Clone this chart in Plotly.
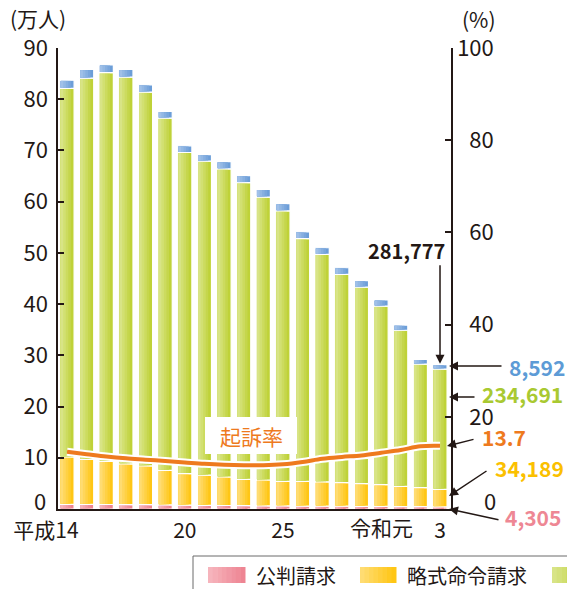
import plotly.graph_objects as go

# ---- data (万人) ----
years = ["平成14", "15", "16", "17", "18", "19", "20", "21", "22", "23",
         "24", "25", "26", "27", "28", "29", "30", "令和元", "2", "3"]
kohan = [0.92, 0.90, 0.88, 0.86, 0.84, 0.80, 0.75, 0.72, 0.68, 0.65,
         0.62, 0.60, 0.58, 0.56, 0.55, 0.53, 0.50, 0.48, 0.45, 0.4305]
ryakushiki = [9.23, 8.80, 8.42, 7.94, 7.56, 6.75, 6.15, 5.88, 5.57, 5.15,
              5.04, 4.80, 4.82, 4.74, 4.59, 4.42, 4.25, 3.95, 3.72, 3.4189]
fukiso = [71.95, 74.40, 75.90, 75.50, 73.00, 68.75, 62.70, 61.30, 60.15, 57.90,
          55.24, 52.80, 47.40, 44.40, 40.66, 38.35, 34.85, 30.47, 24.13, 23.4691]
kasai = [1.6, 1.7, 1.5, 1.5, 1.4, 1.3, 1.3, 1.3, 1.4, 1.4,
         1.5, 1.4, 1.3, 1.3, 1.3, 1.3, 1.2, 1.0, 0.9, 0.8592]
kiso_rate = [12.4, 11.9, 11.4, 11.0, 10.7, 10.4, 10.1, 9.8, 9.6, 9.5,
             9.5, 9.7, 10.2, 10.9, 11.3, 11.6, 12.2, 12.8, 13.6, 13.7]
x_tick_vals = ["平成14", "20", "25", "3"]
x_tick_text = ["平成14\u3000\u3000", "20", "25", "3"]
reiwa_label = "令和元"
y_tick_vals = [0, 10, 20, 30, 40, 50, 60, 70, 80, 90]
y2_tick_vals = [0, 20, 40, 60, 80, 100]
series_names = ["公判請求", "略式命令請求", "不起訴", "家庭裁判所送致"]
last_labels = ["4,305", "34,189", "234,691", "8,592"]
total_label = "281,777"
rate_label = "13.7"

FONT = "Noto Sans CJK JP, Noto Sans, sans-serif"
DARK = "#231815"
ORANGE = "#EE7A1E"
# (dark right edge, light left edge) of each series' gradient
GRAD = [("#EE8593", "#F6B4BC"), ("#FFC615", "#FFDC72"),
        ("#BFD238", "#D8E486"), ("#6C9ED8", "#A0C0E8")]
TXT_PINK, TXT_YELLOW, TXT_GREEN, TXT_BLUE = "#EE8794", "#FBC000", "#A9C931", "#5D9BD6"

W, H = 567, 589
L, R, T, B = 58, 116, 48, 80
PW, PH = W - L - R, H - T - B
BAR_W = 0.72
STEPS = 5


def px(x):
    return (x - L) / PW


def py(y):
    return (H - B - y) / PH


def mix(c1, c2, t):
    a = [int(c1[i:i + 2], 16) for i in (1, 3, 5)]
    b = [int(c2[i:i + 2], 16) for i in (1, 3, 5)]
    return "#%02x%02x%02x" % tuple(round(a[i] + (b[i] - a[i]) * t) for i in range(3))


fig = go.Figure()
series = [kohan, ryakushiki, fukiso, kasai]
base = [0.0] * len(years)
for vals, (dark, light), nm in zip(series, GRAD, series_names):
    fig.add_bar(x=years, y=vals, base=base, name=nm, width=BAR_W, offset=-BAR_W / 2,
                showlegend=False,
                marker=dict(color=dark, line=dict(color="white", width=1.2)))
    # lighter strips on the left to imitate the horizontal gradient
    inset_y = 0.13
    for k in range(1, STEPS):
        wk = (BAR_W - 0.07) * (STEPS - k) / STEPS
        fig.add_bar(x=years, y=[max(v - 2 * inset_y, 0.05) for v in vals],
                    base=[b + inset_y for b in base], width=wk, offset=-BAR_W / 2 + 0.035,
                    showlegend=False, hoverinfo="skip",
                    marker=dict(color=mix(dark, light, k / (STEPS - 1)), line=dict(width=0)))
    base = [b + v for b, v in zip(base, vals)]

fig.add_scatter(x=years, y=kiso_rate, yaxis="y2", mode="lines", showlegend=False,
                line=dict(color="white", width=8, shape="spline"), hoverinfo="skip")
fig.add_scatter(x=years, y=kiso_rate, yaxis="y2", mode="lines", name="起訴率", showlegend=False,
                line=dict(color=ORANGE, width=4, shape="spline"))

totals = base
last_idx = len(years) - 1

ann = []
shapes = []
# axis titles
ann.append(dict(text="(万人)", x=px(8), y=py(18), xref="paper", yref="paper",
                xanchor="left", yanchor="middle", showarrow=False,
                font=dict(size=21, color=DARK)))
ann.append(dict(text="(%)", x=px(460), y=py(19), xref="paper", yref="paper",
                xanchor="left", yanchor="middle", showarrow=False,
                font=dict(size=21, color=DARK)))
# raised zero labels
ann.append(dict(text="0", x=px(48), y=py(500), xref="paper", yref="paper",
                xanchor="right", yanchor="middle", showarrow=False,
                font=dict(size=22, color=DARK)))
ann.append(dict(text="0", x=px(498), y=py(500), xref="paper", yref="paper",
                xanchor="right", yanchor="middle", showarrow=False,
                font=dict(size=22, color=DARK)))
# 令和元 label, nudged left as in the original to clear the "3"
ann.append(dict(text=reiwa_label, x=years.index(reiwa_label), xref="x", y=py(527), yref="paper",
                xshift=-19, xanchor="center", yanchor="middle", showarrow=False,
                font=dict(size=21, color=DARK)))

# 起訴率 label box
shapes.append(dict(type="rect", xref="paper", yref="paper", x0=px(205), x1=px(297),
                   y0=py(454), y1=py(417), fillcolor="white", line=dict(width=0), layer="above"))
ann.append(dict(text="起訴率", x=px(251), y=py(436), xref="paper", yref="paper",
                xanchor="center", yanchor="middle", showarrow=False,
                font=dict(size=21, color=ORANGE)))

# total label and arrow
ann.append(dict(text="<b>%s</b>" % total_label, x=px(447), y=py(251), xref="paper", yref="paper",
                xanchor="right", yanchor="middle", showarrow=False,
                font=dict(size=20, color=DARK)))
ann.append(dict(text="", x=last_idx, y=totals[-1], xref="x", yref="y", ax=0, ay=-101,
                showarrow=True, arrowhead=2, arrowsize=1.2, arrowwidth=1.5, arrowcolor=DARK,
                standoff=1))

# right-side value labels
lab_specs = [
    (last_labels[3], TXT_BLUE, 507, 367, (449, 366), (503, 366)),
    (last_labels[2], TXT_GREEN, 480, 394, (449, 397), (476, 397)),
    (rate_label, ORANGE, 480, 437, (447, 446), (475, 439)),
    (last_labels[1], TXT_YELLOW, 493, 468, (449, 496), (488, 470)),
    (last_labels[0], TXT_PINK, 503, 517, (449, 509), (500, 520)),
]
for txt, col, tx, ty, head, tail in lab_specs:
    ann.append(dict(text="<b>%s</b>" % txt, x=px(tx), y=py(ty), xref="paper", yref="paper",
                    xanchor="left", yanchor="middle", showarrow=False,
                    font=dict(size=21, color=col)))
    ann.append(dict(text="", x=px(head[0]), y=py(head[1]), xref="paper", yref="paper",
                    ax=tail[0] - head[0], ay=tail[1] - head[1], showarrow=True,
                    arrowhead=2, arrowsize=1.2, arrowwidth=1.5, arrowcolor=DARK))

# manual legend
shapes.append(dict(type="rect", xref="paper", yref="paper", x0=px(193), x1=px(640),
                   y0=py(610), y1=py(556), fillcolor="white", line=dict(color="#6b6b6b", width=1)))
leg = [(208, 245, 254), (360, 396, 405), (552, 589, 598), (720, 757, 766)]
for (x0, x1, tx), (dark, light), nm in zip(leg, GRAD, series_names):
    n = 8
    for k in range(n):
        xa = x0 + (x1 - x0) * k / n
        xb = x0 + (x1 - x0) * (k + 1) / n + 0.5
        shapes.append(dict(type="rect", xref="paper", yref="paper", x0=px(xa), x1=px(xb),
                           y0=py(583), y1=py(567), fillcolor=mix(light, dark, k / (n - 1)),
                           line=dict(width=0)))
    ann.append(dict(text=nm, x=px(tx), y=py(575), xref="paper", yref="paper",
                    xanchor="left", yanchor="middle", showarrow=False,
                    font=dict(size=20, color=DARK)))

fig.update_layout(
    width=W, height=H, autosize=False,
    margin=dict(l=L, r=R, t=T, b=B, pad=0),
    barmode="overlay",
    plot_bgcolor="white", paper_bgcolor="white",
    font=dict(family=FONT, color=DARK),
    annotations=ann, shapes=shapes,
    xaxis=dict(type="category", range=[-0.46, 19.56], showline=True, linecolor=DARK,
               linewidth=1.5, ticks="", tickvals=x_tick_vals, ticktext=x_tick_text,
               tickangle=0, ticklabelstandoff=2,
               tickfont=dict(size=21, color=DARK), showgrid=False, zeroline=False),
    yaxis=dict(range=[0, 90], tickvals=y_tick_vals,
               ticktext=["" if v == 0 else str(v) for v in y_tick_vals],
               ticks="inside", ticklen=6, tickcolor=DARK, ticklabelstandoff=4,
               tickwidth=1.5, showline=True, linecolor=DARK, linewidth=1.5, showgrid=False,
               zeroline=False, tickfont=dict(size=22, color=DARK)),
    yaxis2=dict(range=[0, 100], tickvals=y2_tick_vals,
                ticktext=["" if v == 0 else ("\u2007" * (3 - len(str(v))) + str(v)) for v in y2_tick_vals],
                overlaying="y", side="right",
                ticks="inside", ticklen=6, tickcolor=DARK, tickwidth=1.5, showline=True,
                linecolor=DARK, linewidth=1.5, showgrid=False, zeroline=False,
                tickfont=dict(size=22, color=DARK)),
)

fig.write_html("out.html", config={"displayModeBar": False},
               post_script="document.body.style.margin='0';document.body.style.padding='0';")
